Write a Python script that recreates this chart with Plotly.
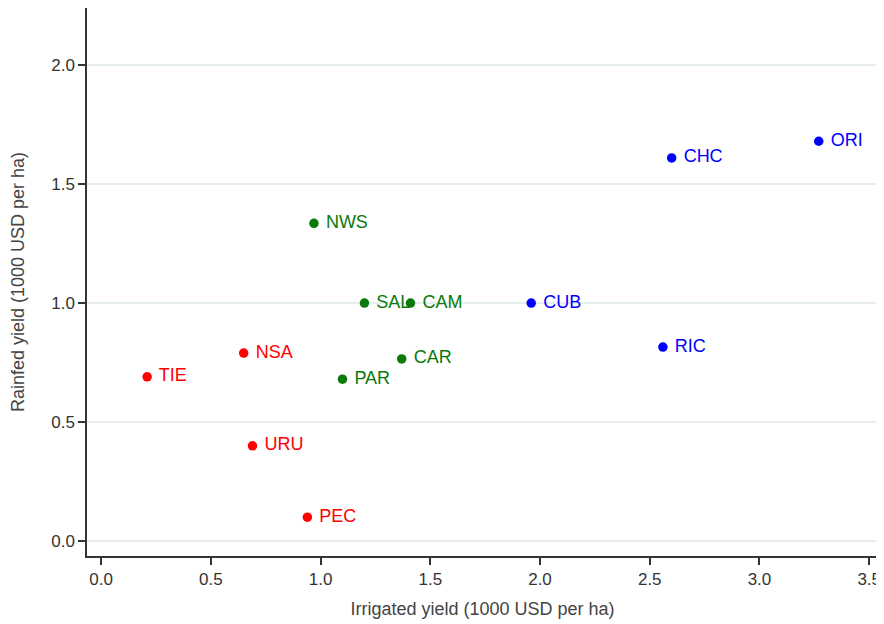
import plotly.graph_objects as go

codes = ["ORI", "CHC", "CUB", "RIC", "NWS", "SAL", "CAM", "CAR", "PAR", "NSA", "TIE", "URU", "PEC"]
irrigated = [3.27, 2.60, 1.96, 2.56, 0.97, 1.20, 1.41, 1.37, 1.10, 0.65, 0.21, 0.69, 0.94]
rainfed = [1.68, 1.61, 1.00, 0.815, 1.335, 1.00, 1.00, 0.765, 0.68, 0.79, 0.69, 0.40, 0.10]
groups = ["high", "high", "high", "high", "mid", "mid", "mid", "mid", "mid", "low", "low", "low", "low"]
group_order = ["low", "mid", "high"]
group_colors = {"low": "#ff0000", "mid": "#0a7a0a", "high": "#0000ff"}

x_ticks = [0.0, 0.5, 1.0, 1.5, 2.0, 2.5, 3.0, 3.5]
y_ticks = [0.0, 0.5, 1.0, 1.5, 2.0]

FONT = "Liberation Sans, Arial, sans-serif"

fig = go.Figure()
for g in group_order:
    idx = [i for i, gg in enumerate(groups) if gg == g]
    fig.add_trace(go.Scatter(
        x=[irrigated[i] for i in idx],
        y=[rainfed[i] for i in idx],
        text=[codes[i] for i in idx],
        texttemplate=" %{text}",
        mode="markers+text",
        textposition="middle right",
        marker=dict(size=9.5, color=group_colors[g]),
        textfont=dict(family=FONT, size=18, color=group_colors[g]),
        showlegend=False,
        cliponaxis=False,
        hoverinfo="skip",
    ))

axis_font = dict(family=FONT, size=17, color="#333333")
fig.update_layout(
    width=876, height=616,
    margin=dict(l=79, r=6, t=0, b=68),
    paper_bgcolor="white", plot_bgcolor="white",
    font=axis_font,
    xaxis=dict(
        range=[-0.064, 3.54], tickvals=x_ticks, tickformat=".1f",
        showgrid=False, zeroline=False,
        showline=True, linecolor="#333333", linewidth=1.5,
        ticks="outside", ticklen=7, tickwidth=1.5, tickcolor="#333333",
        tickfont=axis_font,
        title=dict(text="Irrigated yield (1000 USD per ha)", font=dict(family=FONT, size=18, color="#444444"), standoff=14),
    ),
    yaxis=dict(
        range=[-0.063, 2.24], tickvals=y_ticks, tickformat=".1f",
        showgrid=True, gridcolor="#e6eded", gridwidth=1.5, zeroline=False,
        showline=True, linecolor="#333333", linewidth=1.5,
        ticks="outside", ticklen=7, tickwidth=1.5, tickcolor="#333333",
        tickfont=axis_font,
        title=dict(text="Rainfed yield (1000 USD per ha)", font=dict(family=FONT, size=18, color="#444444"), standoff=22),
    ),
)
fig.write_html("out.html")
